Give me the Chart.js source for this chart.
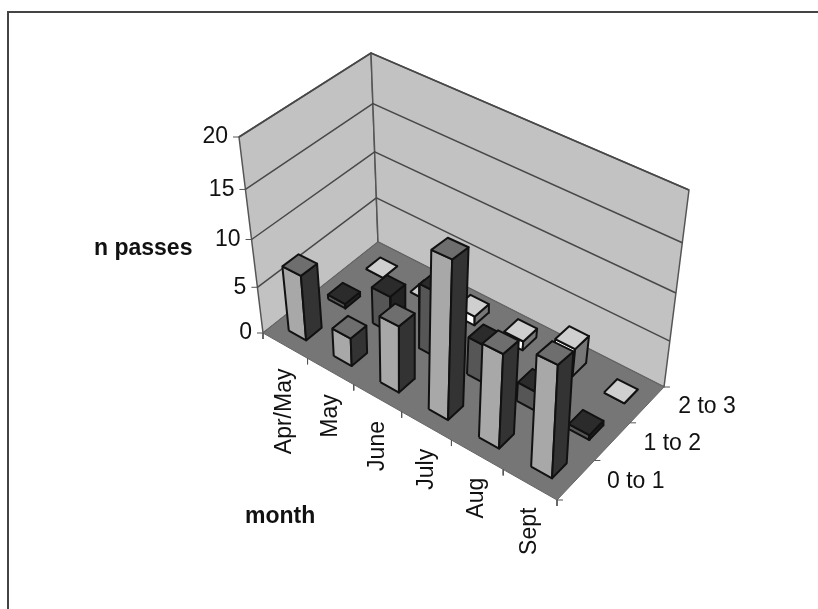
<!DOCTYPE html>
<html>
<head>
<meta charset="utf-8">
<title>n passes by month</title>
<script src="https://cdn.jsdelivr.net/npm/chart.js@4"></script>
<style>
  html, body { margin: 0; padding: 0; background: #fff; }
  canvas { display: block; }
</style>
</head>
<body>
<canvas id="grafico" width="818" height="609"></canvas>
<script>
const months = ['Apr/May', 'May', 'June', 'July', 'Aug', 'Sept'];
const seriesNames = ['0 to 1', '1 to 2', '2 to 3'];
const values0to1 = [7, 3, 7, 16, 9.5, 11];
const values1to2 = [0.5, 4, 7, 4, 2, 0.5];
const values2to3 = [0, 0, 1, 1, 3, 0];
const valueTicks = [0, 5, 10, 15, 20];

const seriesValues = [values0to1, values1to2, values2to3];
const valueMax = 20;
const barWidth = 0.39;

// screen corners of the box: month edge first, depth second
const floorQuad = [[263, 333], [557, 500], [664, 387], [378, 242]];
const ceilQuad = [[239, 137], [567, 280], [689, 190], [371, 53]];
const heightBend = 0.096;

const facePaint = [
  { left: '#a8a8a8', top: '#6e6e6e', right: '#333333' },
  { left: '#565656', top: '#2b2b2b', right: '#222222' },
  { left: '#ffffff', top: '#cfcfcf', right: '#777777' },
];

function quadMap(q) {
  const [p0, p1, p2, p3] = q;
  const dx1 = p1[0] - p2[0], dx2 = p3[0] - p2[0], sx = p0[0] - p1[0] + p2[0] - p3[0];
  const dy1 = p1[1] - p2[1], dy2 = p3[1] - p2[1], sy = p0[1] - p1[1] + p2[1] - p3[1];
  const det = dx1 * dy2 - dx2 * dy1;
  const g = (sx * dy2 - dx2 * sy) / det;
  const h = (dx1 * sy - sx * dy1) / det;
  const a = p1[0] - p0[0] + g * p1[0], b = p3[0] - p0[0] + h * p3[0];
  const d = p1[1] - p0[1] + g * p1[1], e = p3[1] - p0[1] + h * p3[1];
  return (u, v) => {
    const w = g * u + h * v + 1;
    return [(a * u + b * v + p0[0]) / w, (d * u + e * v + p0[1]) / w];
  };
}

const floorAt = quadMap(floorQuad);
const ceilAt = quadMap(ceilQuad);

function project(m, s, value) {
  const u = m / months.length;
  const v = s / seriesNames.length;
  const t = value / valueMax;
  const k = t / (1 + heightBend * (1 - t));
  const a = floorAt(u, v);
  const b = ceilAt(u, v);
  return { x: a[0] + (b[0] - a[0]) * k, y: a[1] + (b[1] - a[1]) * k };
}

function face(points, fillColor, borderColor, borderWidth) {
  return {
    data: [...points, points[0]],
    showLine: true,
    fill: 'shape',
    backgroundColor: fillColor,
    borderColor,
    borderWidth,
    borderJoinStyle: 'round',
    pointRadius: 0,
    tension: 0,
  };
}

function line(points, color, width) {
  return {
    data: points,
    showLine: true,
    fill: false,
    borderColor: color,
    borderWidth: width,
    pointRadius: 0,
    tension: 0,
  };
}

function buildWalls() {
  const nm = months.length;
  const ns = seriesNames.length;
  const out = [
    face([project(0, 0, 0), project(0, ns, 0), project(0, ns, valueMax), project(0, 0, valueMax)], '#c2c2c2', '#555555', 1.5),
    face([project(0, ns, 0), project(nm, ns, 0), project(nm, ns, valueMax), project(0, ns, valueMax)], '#c2c2c2', '#555555', 1.5),
    face([project(0, 0, 0), project(nm, 0, 0), project(nm, ns, 0), project(0, ns, 0)], '#767676', '#666666', 1),
  ];
  valueTicks.slice(1).forEach(t => {
    out.push(line([project(0, 0, t), project(0, ns, t), project(nm, ns, t)], '#484848', 1.5));
  });
  return out;
}

function buildTicks() {
  const out = [];
  valueTicks.forEach(t => {
    const p = project(0, 0, t);
    out.push(line([p, { x: p.x - 6, y: p.y }], '#555555', 1));
  });
  for (let m = 0; m <= months.length; m++) {
    const p = project(m, 0, 0);
    out.push(line([p, { x: p.x, y: p.y + 6 }], '#555555', 1));
  }
  for (let s = 0; s <= seriesNames.length; s++) {
    const p = project(months.length, s, 0);
    out.push(line([p, { x: p.x + 6, y: p.y }], '#555555', 1));
  }
  return out;
}

function buildBars() {
  const out = [];
  // far rows first so nearer bars cover them
  for (let s = seriesNames.length - 1; s >= 0; s--) {
    for (let m = 0; m < months.length; m++) {
      const v = seriesValues[s][m];
      const paint = facePaint[s];
      const m0 = m + 0.5 - barWidth / 2, m1 = m + 0.5 + barWidth / 2;
      const s0 = s + 0.5 - barWidth / 2, s1 = s + 0.5 + barWidth / 2;
      out.push(face([project(m0, s0, 0), project(m1, s0, 0), project(m1, s0, v), project(m0, s0, v)], paint.left, '#111111', 2));
      out.push(face([project(m1, s0, 0), project(m1, s1, 0), project(m1, s1, v), project(m1, s0, v)], paint.right, '#111111', 2));
      out.push(face([project(m0, s0, v), project(m1, s0, v), project(m1, s1, v), project(m0, s1, v)], paint.top, '#111111', 2));
    }
  }
  return out;
}

const labelsPlugin = {
  id: 'boxLabels',
  beforeDraw(chart) {
    const { ctx } = chart;
    ctx.save();
    ctx.fillStyle = '#ffffff';
    ctx.fillRect(0, 0, 818, 609);
    ctx.strokeStyle = '#444444';
    ctx.lineWidth = 2;
    ctx.beginPath();
    ctx.moveTo(8, 609);
    ctx.lineTo(8, 12);
    ctx.lineTo(818, 12);
    ctx.stroke();
    ctx.restore();
  },
  afterDatasetsDraw(chart) {
    const { ctx } = chart;
    ctx.save();
    ctx.fillStyle = '#111111';
    ctx.font = '23px "Liberation Sans", Arial, sans-serif';
    ctx.textBaseline = 'middle';

    ctx.textAlign = 'right';
    valueTicks.forEach(t => {
      const p = project(0, 0, t);
      ctx.fillText(String(t), p.x - 11, p.y);
    });

    ctx.textAlign = 'left';
    seriesNames.forEach((name, s) => {
      const p = project(months.length, s + 0.5, 0);
      ctx.fillText(name, p.x + 31, p.y + 2);
    });

    months.forEach((name, m) => {
      const p = project(m + 0.5, 0, 0);
      ctx.save();
      ctx.translate(p.x, p.y + 23);
      ctx.rotate(-Math.PI / 2);
      ctx.textAlign = 'right';
      ctx.fillText(name, 0, 0);
      ctx.restore();
    });

    ctx.font = 'bold 23px "Liberation Sans", Arial, sans-serif';
    ctx.textAlign = 'left';
    ctx.fillText('n passes', 94, 249);
    ctx.fillText('month', 245, 517);
    ctx.restore();
  },
};

const datasets = [...buildWalls(), ...buildTicks(), ...buildBars()].reverse();

new Chart(document.getElementById('grafico').getContext('2d'), {
  type: 'scatter',
  data: { datasets },
  options: {
    responsive: false,
    animation: false,
    events: [],
    layout: { padding: 0 },
    plugins: {
      legend: { display: false },
      tooltip: { enabled: false },
      title: { display: false },
    },
    scales: {
      x: { type: 'linear', display: false, min: 0, max: 818 },
      y: { type: 'linear', display: false, min: 0, max: 609, reverse: true },
    },
  },
  plugins: [labelsPlugin],
});
</script>
</body>
</html>
